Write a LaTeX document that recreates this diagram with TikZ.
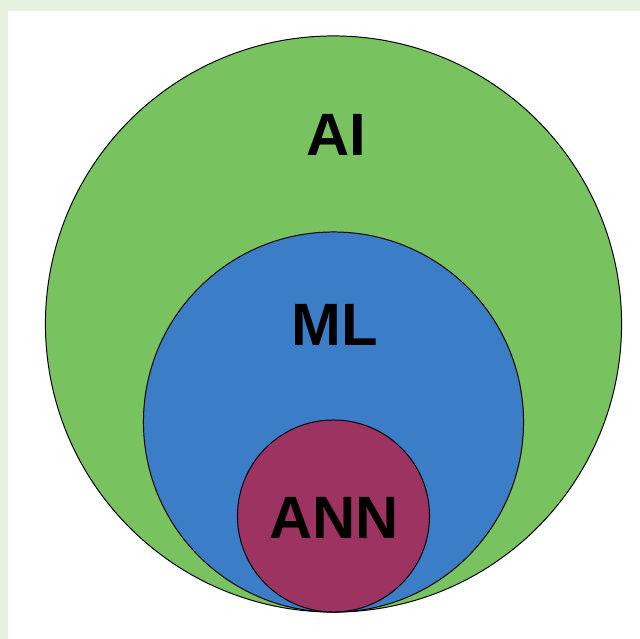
\documentclass[tikz,border=0pt]{standalone}
\usepackage{fontspec}
\setmainfont{Liberation Sans}
\usepackage{tikz}
\definecolor{aigreen}{HTML}{78C260}
\definecolor{mlblue}{HTML}{3B7DC6}
\definecolor{annred}{HTML}{9C3361}
\definecolor{edgegreen}{HTML}{E6F2DF}
\def\setnode{\node[circle,draw=black,line width=0.7pt,inner sep=0pt]}
\def\labnode{\node[font=\fontsize{42.5}{42.5}\bfseries\selectfont]}

\begin{document}
\begin{tikzpicture}[x=0.025cm,y=-0.025cm]
\useasboundingbox (0,0) rectangle (640,639);
\fill[edgegreen] (0,0) rectangle (640,11);
\fill[edgegreen] (0,0) rectangle (8,639);
\setnode[fill=aigreen,minimum size=14.4cm] (ai) at (333.5,324) {};
\setnode[fill=mlblue,minimum size=9.5cm] (ml) at (333.5,422) {};
\setnode[fill=annred,minimum size=4.8cm] (ann) at (333.5,516) {};
\labnode (ailab) at (336,135) {AI};
\labnode (mllab) at (335,325) {ML};
\labnode (annlab) at (334,518) {ANN};
\end{tikzpicture}
\end{document}
